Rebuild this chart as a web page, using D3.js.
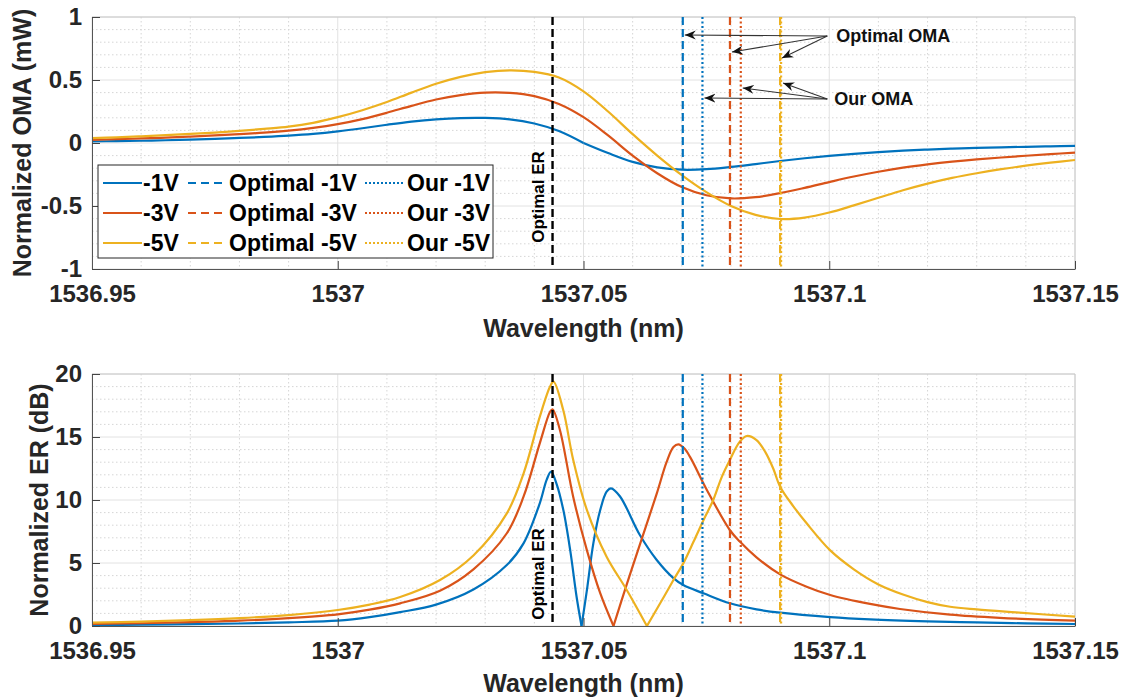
<!DOCTYPE html>
<html>
<head>
<meta charset="utf-8">
<script src="https://cdn.jsdelivr.net/npm/d3@7"></script>
<style>
  body { margin: 0; background: #fff; }
  text { font-family: "Liberation Sans", Arial, sans-serif; font-weight: bold; }
</style>
</head>
<body>
<svg id="chart" width="1132" height="700"></svg>
<script>
// ---- data ----
const voltages = ["-1V", "-3V", "-5V"];
const colors = ["#0072BD", "#D95319", "#EDB120"];

const wlTicks = [1536.95, 1537, 1537.05, 1537.1, 1537.15];
const wlTickLabels = ["1536.95", "1537", "1537.05", "1537.1", "1537.15"];
const omaTicks = [-1, -0.5, 0, 0.5, 1];
const omaTickLabels = ["-1", "-0.5", "0", "0.5", "1"];
const erTicks = [0, 5, 10, 15, 20];
const erTickLabels = ["0", "5", "10", "15", "20"];

const omaWl = [1536.95, 1536.955, 1536.96, 1536.965, 1536.97, 1536.975, 1536.98, 1536.985, 1536.99, 1536.995,
  1537.0, 1537.005, 1537.01, 1537.015, 1537.02, 1537.025, 1537.03, 1537.035, 1537.04, 1537.045,
  1537.05, 1537.055, 1537.06, 1537.065, 1537.07, 1537.075, 1537.08, 1537.085, 1537.09, 1537.095,
  1537.1, 1537.105, 1537.11, 1537.115, 1537.12, 1537.125, 1537.13, 1537.135, 1537.14, 1537.145, 1537.15];
const oma1V = [0.012, 0.015, 0.018, 0.022, 0.027, 0.033, 0.04, 0.048, 0.058, 0.072,
  0.092, 0.117, 0.145, 0.17, 0.188, 0.198, 0.199, 0.188, 0.155, 0.095,
  0.0, -0.08, -0.15, -0.193, -0.212, -0.208, -0.19, -0.167, -0.143, -0.121,
  -0.102, -0.086, -0.072, -0.061, -0.052, -0.045, -0.039, -0.034, -0.03, -0.026, -0.023];
const oma3V = [0.025, 0.03, 0.036, 0.043, 0.051, 0.06, 0.07, 0.082, 0.098, 0.12,
  0.15, 0.19, 0.24, 0.295, 0.345, 0.38, 0.4, 0.398, 0.372, 0.31,
  0.205, 0.06, -0.1, -0.24, -0.35, -0.415, -0.44, -0.43, -0.398, -0.356,
  -0.31, -0.266, -0.228, -0.196, -0.17, -0.148, -0.13, -0.115, -0.101, -0.088, -0.077];
const oma5V = [0.038, 0.045, 0.053, 0.062, 0.072, 0.083, 0.096, 0.112, 0.13, 0.16,
  0.205, 0.26, 0.325, 0.4, 0.47, 0.525, 0.562, 0.577, 0.565, 0.52,
  0.41, 0.25, 0.07, -0.1, -0.255, -0.39, -0.5, -0.57, -0.603, -0.592,
  -0.552, -0.495, -0.435, -0.375, -0.322, -0.277, -0.24, -0.208, -0.18, -0.156, -0.135];

// [wavelength, ER dB]
const er1V = [[1536.95, 0.08], [1536.96, 0.11], [1536.97, 0.15], [1536.98, 0.2], [1536.99, 0.29], [1537.0, 0.42],
  [1537.0065, 0.7], [1537.0127, 1.1], [1537.02, 1.7], [1537.0276, 2.9], [1537.0344, 4.84], [1537.0378, 6.56],
  [1537.0411, 9.74], [1537.0425, 11.6], [1537.0434, 12.25], [1537.0445, 11.3], [1537.0459, 9.2], [1537.0473, 6.0],
  [1537.0486, 2.3], [1537.0496, 0], [1537.0507, 2.86], [1537.052, 6.56], [1537.0534, 9.2], [1537.0547, 10.66],
  [1537.0556, 10.93], [1537.0574, 10.3], [1537.0615, 7.2], [1537.0649, 5.24], [1537.0683, 3.8], [1537.0703, 3.25],
  [1537.0744, 2.6], [1537.0798, 1.8], [1537.0852, 1.32], [1537.09, 1.06], [1537.1002, 0.71], [1537.1083, 0.53],
  [1537.12, 0.37], [1537.13, 0.28], [1537.14, 0.21], [1537.15, 0.16]];
const er3V = [[1536.95, 0.17], [1536.96, 0.22], [1536.97, 0.3], [1536.98, 0.42], [1536.99, 0.62], [1537.0, 0.93],
  [1537.0065, 1.3], [1537.0127, 1.8], [1537.0208, 2.8], [1537.0276, 4.5], [1537.0344, 7.36], [1537.0378, 10.26],
  [1537.0411, 14.5], [1537.0432, 17.0], [1537.0437, 17.2], [1537.0452, 15.56], [1537.0479, 10.26], [1537.0507, 6.0],
  [1537.0534, 2.6], [1537.0561, 0], [1537.0588, 3.3], [1537.0615, 6.5], [1537.0649, 10.5], [1537.0669, 13.0],
  [1537.0683, 14.2], [1537.0693, 14.42], [1537.0705, 14.1], [1537.0717, 13.4], [1537.0751, 10.8], [1537.0798, 7.6],
  [1537.0818, 6.7], [1537.0852, 5.45], [1537.09, 4.1], [1537.0954, 3.12], [1537.1002, 2.46], [1537.1083, 1.75],
  [1537.1144, 1.35], [1537.1246, 0.9], [1537.1347, 0.65], [1537.15, 0.42]];
const er5V = [[1536.95, 0.27], [1536.96, 0.35], [1536.97, 0.46], [1536.98, 0.62], [1536.99, 0.87], [1537.0, 1.27],
  [1537.0065, 1.7], [1537.0127, 2.3], [1537.0208, 3.65], [1537.0276, 5.6], [1537.0344, 8.94], [1537.0378, 12.1],
  [1537.0411, 16.6], [1537.0432, 19.0], [1537.0439, 19.39], [1537.0459, 17.1], [1537.0479, 13.2], [1537.0507, 9.2],
  [1537.0547, 5.5], [1537.0588, 2.86], [1537.0629, 0], [1537.0656, 1.8], [1537.0683, 3.65], [1537.0703, 4.97],
  [1537.0724, 6.7], [1537.0744, 8.4], [1537.0764, 10.0], [1537.0781, 11.8], [1537.0798, 13.2], [1537.0818, 14.63],
  [1537.0832, 15.08], [1537.0852, 14.76], [1537.087, 13.8], [1537.0886, 12.5], [1537.09, 11.06], [1537.0927, 9.5],
  [1537.0954, 8.15], [1537.1002, 6.0], [1537.105, 4.5], [1537.11, 3.3], [1537.115, 2.5], [1537.12, 1.9],
  [1537.1246, 1.53], [1537.13, 1.32], [1537.138, 1.08], [1537.15, 0.74]];

const optimalER = 1537.0437;
const optimalOMA = [1537.0702, 1537.0798, 1537.0900];
const ourOMA = [1537.0742, 1537.0820, 1537.0902];

// ---- layout ----
const svg = d3.select("#chart");
const left = 92, right = 1075;
const x = d3.scaleLinear().domain([1536.95, 1537.15]).range([left, right]);
const yOMA = d3.scaleLinear().domain([-1, 1]).range([269, 17]);
const yER = d3.scaleLinear().domain([0, 20]).range([626, 374]);

const defs = svg.append("defs");
defs.append("marker").attr("id", "head")
  .attr("viewBox", "0 -5 12 10").attr("refX", 11).attr("refY", 0)
  .attr("markerWidth", 12).attr("markerHeight", 10).attr("markerUnits", "userSpaceOnUse")
  .attr("orient", "auto")
  .append("path").attr("d", "M11,0 L0,-4.5 L3.5,0 L0,4.5 Z").attr("fill", "#111");

// split a curve at its zero points so the V notches stay sharp
function splitAtZeros(s) {
  const parts = [];
  let cur = [];
  s.forEach((d, i) => {
    cur.push(d);
    if (d[1] === 0 && i > 0 && i < s.length - 1) { parts.push(cur); cur = [d]; }
  });
  parts.push(cur);
  return parts;
}

function panel(id, y, yTicks, yLabels, yTitle, titleX, series, xTitleY, erLabelY) {
  const g = svg.append("g");
  const top = y.range()[1], bottom = y.range()[0];

  defs.append("clipPath").attr("id", "clip" + id)
    .append("rect").attr("x", left).attr("y", top).attr("width", right - left).attr("height", bottom - top);

  // minor grid
  g.append("g").selectAll("line").data(x.ticks(20).filter(d => !wlTicks.some(t => Math.abs(t - d) < 1e-6)))
    .join("line").attr("x1", d => x(d)).attr("x2", d => x(d)).attr("y1", top).attr("y2", bottom)
    .attr("stroke", "#d6d6d6").attr("stroke-dasharray", "1.5,2.5");
  g.append("g").selectAll("line").data(y.ticks(20).filter(d => !yTicks.some(t => Math.abs(t - d) < 1e-6)))
    .join("line").attr("y1", d => y(d)).attr("y2", d => y(d)).attr("x1", left).attr("x2", right)
    .attr("stroke", "#d6d6d6").attr("stroke-dasharray", "1.5,2.5");
  // major grid
  g.append("g").selectAll("line").data(wlTicks).join("line")
    .attr("x1", d => x(d)).attr("x2", d => x(d)).attr("y1", top).attr("y2", bottom)
    .attr("stroke", "#e2e2e2");
  g.append("g").selectAll("line").data(yTicks).join("line")
    .attr("y1", d => y(d)).attr("y2", d => y(d)).attr("x1", left).attr("x2", right)
    .attr("stroke", "#e2e2e2");

  // box top / right
  g.append("path").attr("d", `M${left},${top}H${right}V${bottom}`)
    .attr("fill", "none").attr("stroke", "#c8c8c8");

  // curves
  const line = d3.line().x(d => x(d[0])).y(d => y(d[1])).curve(d3.curveCatmullRom.alpha(0.5));
  const lines = g.append("g").attr("clip-path", `url(#clip${id})`);
  series.forEach((s, i) => {
    splitAtZeros(s).forEach(part => {
      lines.append("path").datum(part)
        .attr("fill", "none").attr("stroke", colors[i]).attr("stroke-width", 2.2)
        .attr("stroke-linejoin", "round").attr("d", line);
    });
  });

  // vertical markers
  const vl = g.append("g");
  vl.append("line").attr("x1", x(optimalER)).attr("x2", x(optimalER)).attr("y1", top).attr("y2", bottom)
    .attr("stroke", "#000").attr("stroke-width", 2.4).attr("stroke-dasharray", "8,4");
  optimalOMA.forEach((w, i) => {
    vl.append("line").attr("x1", x(w)).attr("x2", x(w)).attr("y1", top).attr("y2", bottom)
      .attr("stroke", colors[i]).attr("stroke-width", 2.2).attr("stroke-dasharray", "8,4");
  });
  ourOMA.forEach((w, i) => {
    vl.append("line").attr("x1", x(w)).attr("x2", x(w)).attr("y1", top).attr("y2", bottom)
      .attr("stroke", colors[i]).attr("stroke-width", 2.2).attr("stroke-dasharray", "2,2.5");
  });
  g.append("text")
    .attr("transform", `translate(${x(optimalER) - 9},${erLabelY}) rotate(-90)`)
    .attr("text-anchor", "middle").attr("font-size", 17).attr("fill", "#000")
    .text("Optimal ER");

  // axes
  const ax = g.append("g").attr("transform", `translate(0,${bottom})`)
    .call(d3.axisBottom(x).tickValues(wlTicks).tickFormat((d, i) => wlTickLabels[i])
      .tickSizeInner(-8).tickSizeOuter(0).tickPadding(16));
  const ay = g.append("g").attr("transform", `translate(${left},0)`)
    .call(d3.axisLeft(y).tickValues(yTicks).tickFormat((d, i) => yLabels[i])
      .tickSizeInner(-8).tickSizeOuter(0).tickPadding(10));
  [ax, ay].forEach(a => {
    a.select(".domain").attr("stroke", "#555");
    a.selectAll(".tick line").attr("stroke", "#444");
    a.selectAll("text").attr("font-size", 24).attr("fill", "#262626")
      .attr("font-family", "'Liberation Sans', Arial, sans-serif").attr("font-weight", "bold");
  });

  g.append("text").attr("x", (left + right) / 2).attr("y", xTitleY)
    .attr("text-anchor", "middle").attr("font-size", 25).attr("fill", "#262626")
    .text("Wavelength (nm)");
  g.append("text").attr("transform", `translate(${titleX},${(top + bottom) / 2}) rotate(-90)`)
    .attr("text-anchor", "middle").attr("font-size", 25).attr("fill", "#262626")
    .text(yTitle);
  return g;
}

const omaSeries = [oma1V, oma3V, oma5V].map(v => v.map((d, i) => [omaWl[i], d]));
panel("top", yOMA, omaTicks, omaTickLabels, "Normalized OMA (mW)", 31, omaSeries, 337, 197);
panel("bot", yER, erTicks, erTickLabels, "Normalized ER (dB)", 48, [er1V, er3V, er5V], 692, 574);

// ---- annotations (top panel) ----
const ann = svg.append("g");
const optTips = [0.857, 0.722, 0.675];
const ourTips = [0.357, 0.437, 0.476];
const startX = x(1537.0996);
optimalOMA.forEach((w, i) => {
  ann.append("line").attr("x1", startX).attr("y1", yOMA(0.849)).attr("x2", x(w) + 2).attr("y2", yOMA(optTips[i]))
    .attr("stroke", "#333").attr("stroke-width", 1.1).attr("marker-end", "url(#head)");
});
ourOMA.forEach((w, i) => {
  ann.append("line").attr("x1", startX).attr("y1", yOMA(0.349)).attr("x2", x(w) + 2).attr("y2", yOMA(ourTips[i]))
    .attr("stroke", "#333").attr("stroke-width", 1.1).attr("marker-end", "url(#head)");
});
ann.append("text").attr("x", startX + 9).attr("y", yOMA(0.849) + 6).attr("font-size", 18).attr("fill", "#111")
  .text("Optimal OMA");
ann.append("text").attr("x", startX + 7).attr("y", yOMA(0.349) + 6).attr("font-size", 18).attr("fill", "#111")
  .text("Our OMA");

// ---- legend ----
const lg = svg.append("g");
lg.append("rect").attr("x", 98).attr("y", 165).attr("width", 395).attr("height", 93)
  .attr("fill", "#fff").attr("stroke", "#262626").attr("stroke-width", 1);
const legendCols = [
  { x1: 103, x2: 142, tx: 143, dash: null, label: v => v },
  { x1: 188, x2: 225, tx: 229, dash: "8,5", label: v => "Optimal " + v },
  { x1: 365, x2: 403, tx: 407, dash: "2,2", label: v => "Our " + v }
];
voltages.forEach((v, r) => {
  const yy = 183 + r * 30;
  legendCols.forEach(c => {
    lg.append("line").attr("x1", c.x1).attr("x2", c.x2).attr("y1", yy).attr("y2", yy)
      .attr("stroke", colors[r]).attr("stroke-width", 2.2).attr("stroke-dasharray", c.dash);
    lg.append("text").attr("x", c.tx).attr("y", yy + 8).attr("font-size", 23).attr("fill", "#000")
      .text(c.label(v));
  });
});
</script>
</body>
</html>
